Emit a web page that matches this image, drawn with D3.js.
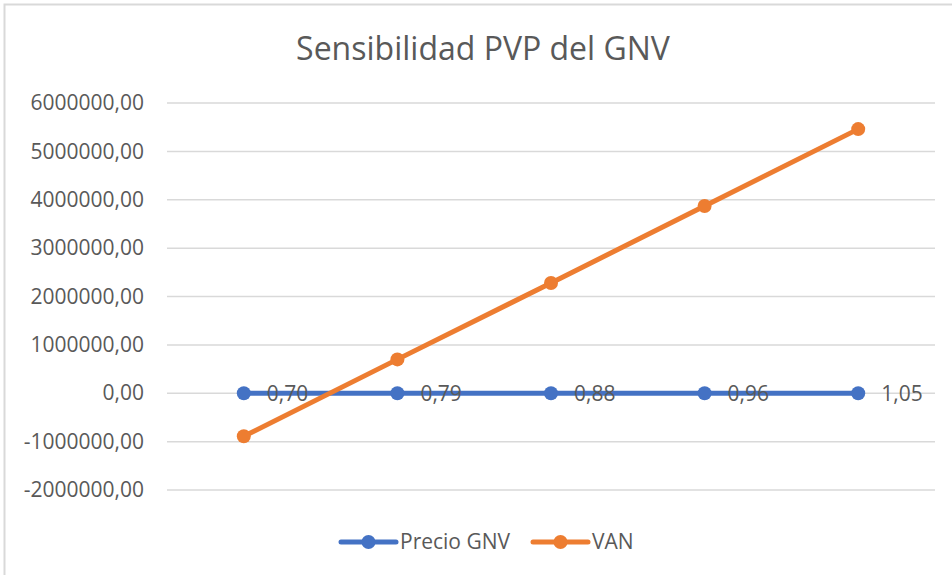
<!DOCTYPE html>
<html>
<head>
<meta charset="utf-8">
<script src="https://cdn.jsdelivr.net/npm/d3@7"></script>
<style>
  body { margin: 0; background: #fff; }
  text { font-family: "Open Sans", sans-serif; fill: #595959; }
</style>
</head>
<body>
<div id="chart"></div>
<script>
// Data
const categories = [1, 2, 3, 4, 5];
const precioGNV = [0.70, 0.79, 0.88, 0.96, 1.05];
const van = [-890000, 700000, 2280000, 3870000, 5460000];
const yTicks = [-2000000, -1000000, 0, 1000000, 2000000, 3000000, 4000000, 5000000, 6000000];

const width = 952, height = 575;
const margin = { top: 103, right: 17, bottom: 85, left: 167 };

const svg = d3.select("#chart")
  .append("svg")
  .attr("width", width)
  .attr("height", height);

// Chart border (only top/left visible in the crop)
svg.append("path")
  .attr("d", `M4.5,${height} V4.5 H${width}`)
  .attr("fill", "none")
  .attr("stroke", "#d9d9d9")
  .attr("stroke-width", 2);

// Title
svg.append("text")
  .attr("x", 483)
  .attr("y", 60)
  .attr("text-anchor", "middle")
  .style("font-size", "32px")
  .text("Sensibilidad PVP del GNV");

const x = d3.scaleBand()
  .domain(categories)
  .range([margin.left, width - margin.right]);

const y = d3.scaleLinear()
  .domain([-2000000, 6000000])
  .range([height - margin.bottom, margin.top]);

// comma decimal, plain hyphen for negatives
const fmt = v => d3.format(".2f")(v).replace(".", ",").replace("\u2212", "-");

// Gridlines
svg.append("g")
  .selectAll("line")
  .data(yTicks)
  .enter()
  .append("line")
  .attr("x1", margin.left).attr("x2", width - margin.right)
  .attr("y1", d => y(d)).attr("y2", d => y(d))
  .attr("stroke", "#d9d9d9")
  .attr("stroke-width", 1.5);

// Y axis labels
const yAxis = svg.append("g")
  .attr("transform", `translate(${margin.left - 23},0)`)
  .call(d3.axisLeft(y).tickValues(yTicks).tickFormat(fmt).tickSize(0).tickPadding(0));
yAxis.select(".domain").remove();
yAxis.selectAll("text")
  .style("font-family", "'Open Sans', sans-serif")
  .style("font-size", "21px")
  .attr("fill", "#595959");

const cx = d => x(d) + x.bandwidth() / 2;

// Precio GNV series (plotted on the value axis, so it sits on zero)
const lineGNV = d3.line()
  .x((d, i) => cx(categories[i]))
  .y(d => y(d));

svg.append("path")
  .datum(precioGNV)
  .attr("d", lineGNV)
  .attr("fill", "none")
  .attr("stroke", "#4472C4")
  .attr("stroke-width", 5)
  .attr("stroke-linecap", "round");

svg.append("g")
  .selectAll("circle")
  .data(precioGNV)
  .enter()
  .append("circle")
  .attr("cx", (d, i) => cx(categories[i]))
  .attr("cy", d => y(d))
  .attr("r", 7)
  .attr("fill", "#4472C4");

// VAN series
const lineVAN = d3.line()
  .x((d, i) => cx(categories[i]))
  .y(d => y(d));

svg.append("path")
  .datum(van)
  .attr("d", lineVAN)
  .attr("fill", "none")
  .attr("stroke", "#ED7D31")
  .attr("stroke-width", 5)
  .attr("stroke-linecap", "round");

svg.append("g")
  .selectAll("circle")
  .data(van)
  .enter()
  .append("circle")
  .attr("cx", (d, i) => cx(categories[i]))
  .attr("cy", d => y(d))
  .attr("r", 7)
  .attr("fill", "#ED7D31");

// Precio GNV data labels
svg.append("g")
  .selectAll("text")
  .data(precioGNV)
  .enter()
  .append("text")
  .attr("x", (d, i) => cx(categories[i]) + 23)
  .attr("y", y(0))
  .attr("dy", "0.35em")
  .style("font-size", "21px")
  .text(d => fmt(d));

// Legend
const legendItems = [
  { name: "Precio GNV", color: "#4472C4", x: 341 },
  { name: "VAN", color: "#ED7D31", x: 533 }
];

legendItems.forEach(item => {
  const g = svg.append("g").attr("transform", `translate(${item.x},542)`);
  g.append("line")
    .attr("x1", 0).attr("x2", 55)
    .attr("y1", 0).attr("y2", 0)
    .attr("stroke", item.color)
    .attr("stroke-width", 5)
    .attr("stroke-linecap", "round");
  g.append("circle")
    .attr("cx", 27.5).attr("cy", 0)
    .attr("r", 7)
    .attr("fill", item.color);
  g.append("text")
    .attr("x", 59)
    .attr("y", 0)
    .attr("dy", "0.35em")
    .style("font-size", "21px")
    .text(item.name);
});
</script>
</body>
</html>
